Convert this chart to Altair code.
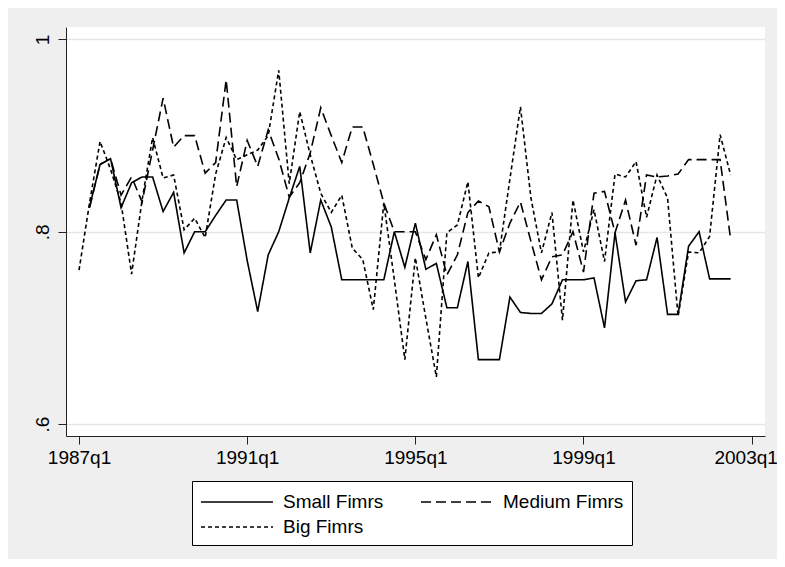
import altair as alt
import pandas as pd

# quarter index 0 = 1987q1
series_names = ["Small Fimrs", "Medium Fimrs", "Big Fimrs"]

small = [None, 0.826, 0.870, 0.876, 0.825, 0.851, 0.857, 0.857, 0.821, 0.841,
         0.778, 0.800, 0.800, 0.817, 0.833, 0.833, 0.770, 0.717, 0.776, 0.800,
         0.835, 0.868, 0.778, 0.833, 0.805, 0.750, 0.750, 0.750, 0.750, 0.750,
         0.800, 0.763, 0.809, 0.761, 0.767, 0.721, 0.721, 0.769, 0.667, 0.667,
         0.667, 0.732, 0.716, 0.715, 0.715, 0.725, 0.750, 0.750, 0.750, 0.752,
         0.700, 0.799, 0.727, 0.749, 0.750, 0.794, 0.714, 0.714, 0.785, 0.800,
         0.751, 0.751, 0.751]

medium = [None, 0.825, 0.870, 0.876, 0.838, 0.857, 0.831, 0.885, 0.939, 0.888,
          0.900, 0.900, 0.861, 0.872, 0.958, 0.847, 0.895, 0.868, 0.906, 0.876,
          0.836, 0.851, 0.882, 0.929, 0.900, 0.872, 0.909, 0.909, 0.870, 0.830,
          0.800, 0.800, 0.800, 0.771, 0.797, 0.755, 0.776, 0.820, 0.832, 0.826,
          0.779, 0.809, 0.831, 0.790, 0.750, 0.774, 0.776, 0.800, 0.758, 0.840,
          0.842, 0.799, 0.833, 0.786, 0.859, 0.857, 0.858, 0.860, 0.875, 0.875,
          0.875, 0.875, 0.792]

big = [0.760, 0.830, 0.894, 0.865, 0.830, 0.756, 0.833, 0.898, 0.856, 0.859,
       0.802, 0.814, 0.794, 0.860, 0.898, 0.875, 0.880, 0.885, 0.900, 0.968,
       0.850, 0.925, 0.880, 0.840, 0.820, 0.838, 0.783, 0.771, 0.719, 0.830,
       0.750, 0.667, 0.773, 0.710, 0.649, 0.799, 0.807, 0.852, 0.752, 0.778,
       0.779, 0.855, 0.930, 0.835, 0.778, 0.820, 0.708, 0.833, 0.779, 0.823,
       0.769, 0.860, 0.857, 0.873, 0.815, 0.859, 0.835, 0.712, 0.779, 0.778,
       0.795, 0.901, 0.859]

x_tick_values = [0, 16, 32, 48, 64]
x_tick_labels = ["1987q1", "1991q1", "1995q1", "1999q1", "2003q1"]
y_tick_values = [0.6, 0.8, 1.0]
y_tick_labels = [".6", ".8", "1"]

rows = []
for name, vals in zip(series_names, [small, medium, big]):
    for i, v in enumerate(vals):
        if v is not None:
            rows.append({"q": i, "value": v, "series": name})
df = pd.DataFrame(rows)


def label_expr(values, labels):
    expr = "''"
    for v, l in reversed(list(zip(values, labels))):
        expr = f"abs(datum.value - {v}) < 1e-6 ? '{l}' : ({expr})"
    return expr


FONT = "Liberation Sans"
FS = 19
last_x = x_tick_values[-1]

chart = alt.Chart(df).mark_line(color="black", strokeWidth=1.6).encode(
    x=alt.X("q:Q",
            scale=alt.Scale(domain=[-1.24, 65.27], nice=False, zero=False),
            axis=alt.Axis(values=x_tick_values, labelExpr=label_expr(x_tick_values, x_tick_labels),
                          title=None, grid=False, tickSize=8, labelPadding=4,
                          labelOffset={"condition": {"test": f"datum.value == {last_x}", "value": -6},
                                       "value": 0},
                          labelFontSize=FS, labelFont=FONT, labelColor="black",
                          domainColor="#222222", tickColor="#222222", labelFlush=False)),
    y=alt.Y("value:Q",
            scale=alt.Scale(domain=[0.5875, 1.013], nice=False, zero=False),
            axis=alt.Axis(values=y_tick_values, labelExpr=label_expr(y_tick_values, y_tick_labels),
                          title=None, grid=True, gridColor="#e6e6e6", gridWidth=1.5,
                          tickSize=8, labelPadding=6, labelAngle=270,
                          labelAlign="center", labelBaseline="bottom",
                          labelFontSize=FS, labelFont=FONT, labelColor="black",
                          domainColor="#222222", tickColor="#222222")),
    strokeDash=alt.StrokeDash("series:N",
                              scale=alt.Scale(domain=series_names,
                                              range=[[1, 0], [10, 5], [4, 3]]),
                              sort=series_names,
                              legend=alt.Legend(title=None, orient="none",
                                                direction="horizontal",
                                                legendX=126, legendY=454,
                                                columns=2, columnPadding=33,
                                                rowPadding=2, padding=8,
                                                symbolType="M-1,0H5", symbolSize=576,
                                                symbolStrokeWidth=1.6,
                                                symbolStrokeColor="black",
                                                labelOffset=57, labelFontSize=FS,
                                                labelFont=FONT, labelColor="black",
                                                strokeColor="black", fillColor="white",
                                                cornerRadius=0)),
).properties(
    width=699, height=409,
    autosize=alt.AutoSizeParams(type="none"),
    padding={"left": 58, "top": 19, "right": 12, "bottom": 123},
    background="#efefef",
).configure_view(fill="white", stroke=None)

chart.save("out.html", embed_options={"renderer": "svg", "actions": False})
